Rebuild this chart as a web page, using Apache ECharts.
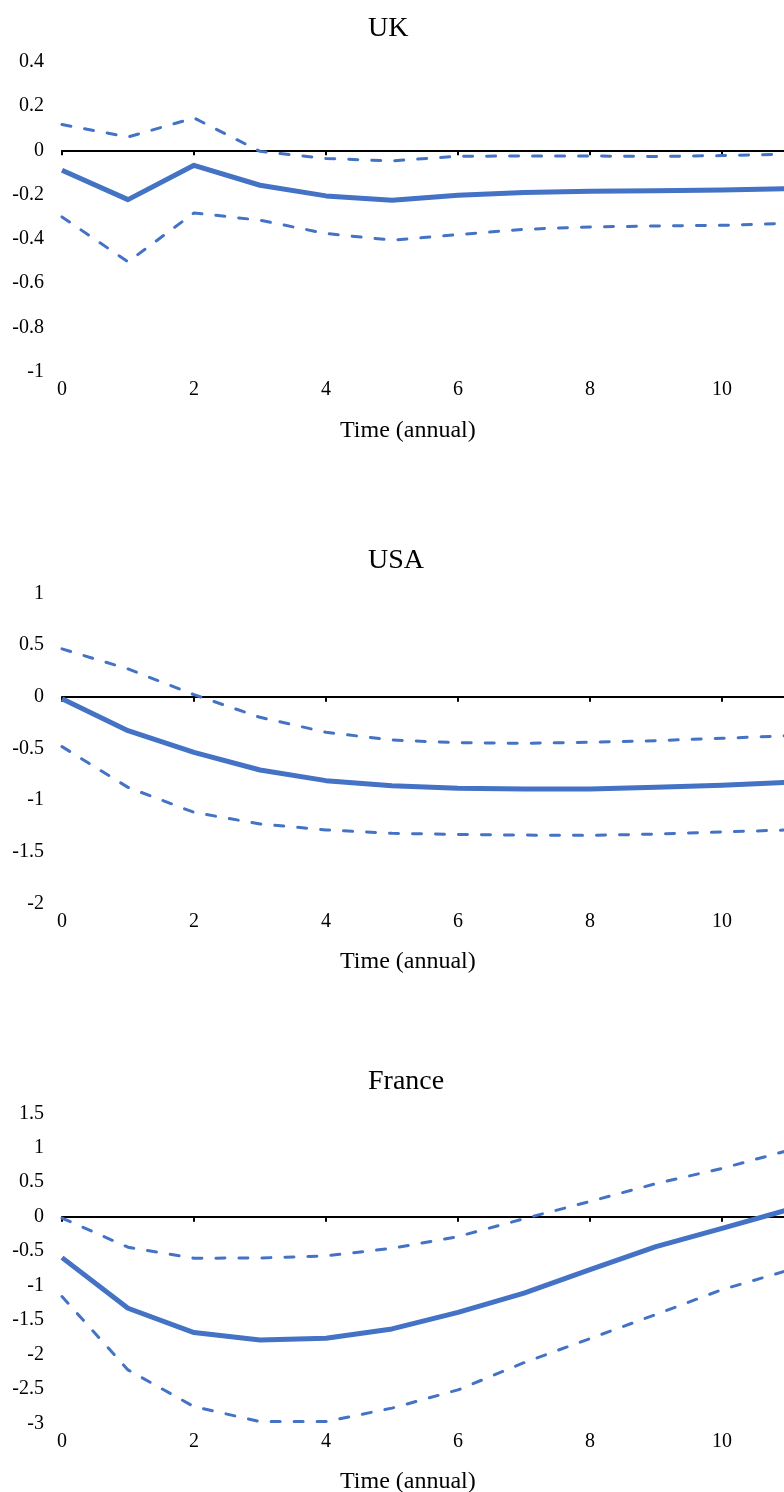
<!DOCTYPE html>
<html>
<head>
<meta charset="utf-8">
<script src="https://cdn.jsdelivr.net/npm/echarts@6/dist/echarts.min.js"></script>
<style>
html,body{margin:0;padding:0;background:#fff;}
#chart{width:784px;height:1492px;}
</style>
</head>
<body>
<div id="chart"></div>
<script>
// ---- data ----
const time = [0, 1, 2, 3, 4, 5, 6, 7, 8, 9, 10, 11];
const xTicks = [0, 2, 4, 6, 8, 10, 12];

const panelTitles = ['UK', 'USA', 'France'];
const xAxisTitle = 'Time (annual)';

const ukMid = [-0.09, -0.223, -0.068, -0.158, -0.206, -0.226, -0.203, -0.191, -0.185, -0.183, -0.179, -0.173];
const ukUpper = [0.116, 0.06, 0.146, -0.005, -0.037, -0.048, -0.027, -0.026, -0.026, -0.028, -0.024, -0.018];
const ukLower = [-0.301, -0.504, -0.283, -0.316, -0.376, -0.406, -0.381, -0.357, -0.346, -0.342, -0.339, -0.330];

const usaMid = [-0.02, -0.329, -0.539, -0.71, -0.813, -0.862, -0.887, -0.894, -0.894, -0.878, -0.858, -0.829];
const usaUpper = [0.462, 0.268, 0.019, -0.2, -0.345, -0.42, -0.446, -0.452, -0.442, -0.426, -0.403, -0.378];
const usaLower = [-0.484, -0.878, -1.12, -1.232, -1.29, -1.323, -1.333, -1.34, -1.343, -1.33, -1.31, -1.29];

const frMid = [-0.595, -1.33, -1.683, -1.79, -1.765, -1.63, -1.39, -1.11, -0.77, -0.435, -0.17, 0.1];
const frUpper = [-0.02, -0.444, -0.604, -0.6, -0.57, -0.459, -0.29, -0.03, 0.22, 0.48, 0.70, 0.96];
const frLower = [-1.16, -2.225, -2.758, -2.975, -2.975, -2.78, -2.515, -2.12, -1.77, -1.42, -1.06, -0.78];

const yMins = [-1, -2, -3];
const yMaxs = [0.4, 1, 1.5];
const yIntervals = [0.2, 0.5, 0.5];

// ---- styling / layout ----
const FONT = '"Liberation Serif", "Times New Roman", serif';
const BLUE = '#4472C4';
const gridTops = [61.7, 593.3, 1113.3];
const titleY = [28.5, 561, 1082];
const axisTitleY = [431, 962, 1482];

const panels = [
  [ukMid, ukUpper, ukLower],
  [usaMid, usaUpper, usaLower],
  [frMid, frUpper, frLower]
];

const grids = [], xAxes = [], yAxes = [], series = [], graphics = [];
const toPairs = arr => arr.map((v, i) => [time[i], v]);

panels.forEach((p, i) => {
  grids.push({ left: 62, top: gridTops[i], width: 792, height: 310, containLabel: false, outerBoundsMode: 'none' });
  // label axis at the bottom
  xAxes.push({
    type: 'value', gridIndex: i, min: xTicks[0], max: xTicks[xTicks.length - 1], interval: 2,
    position: 'bottom',
    axisLine: { show: false, onZero: false },
    axisTick: { show: false },
    splitLine: { show: false },
    axisLabel: { fontFamily: FONT, fontSize: 20, color: '#000', margin: 8 }
  });
  // zero line with ticks
  xAxes.push({
    type: 'value', gridIndex: i, min: xTicks[0], max: xTicks[xTicks.length - 1], interval: 2,
    position: 'top',
    axisLine: { show: true, onZero: true, lineStyle: { color: '#000', width: 2 } },
    axisTick: { show: true, inside: true, length: 5, lineStyle: { color: '#000', width: 2 } },
    splitLine: { show: false },
    axisLabel: { show: false }
  });
  yAxes.push({
    type: 'value', gridIndex: i, min: yMins[i], max: yMaxs[i], interval: yIntervals[i],
    axisLine: { show: false },
    axisTick: { show: false },
    splitLine: { show: false },
    axisLabel: { fontFamily: FONT, fontSize: 20, color: '#000', margin: 18, padding: [4, 0, 0, 0] }
  });
  const [mid, up, low] = p;
  [up, low].forEach(arr => {
    series.push({
      type: 'line', xAxisIndex: i * 2, yAxisIndex: i, data: toPairs(arr),
      showSymbol: false, symbol: 'none', smooth: false,
      lineStyle: { color: BLUE, width: 3, type: [9, 14], cap: 'round', join: 'round' },
      z: 3
    });
  });
  series.push({
    type: 'line', xAxisIndex: i * 2, yAxisIndex: i, data: toPairs(mid),
    showSymbol: false, symbol: 'none', smooth: false,
    lineStyle: { color: BLUE, width: 5, cap: 'butt', join: 'round' },
    z: 4
  });
  graphics.push({
    type: 'text', x: 368, y: titleY[i],
    style: { text: panelTitles[i], fill: '#000', font: '28px ' + FONT, align: 'left', verticalAlign: 'middle' }
  });
  graphics.push({
    type: 'text', x: 340, y: axisTitleY[i],
    style: { text: xAxisTitle, fill: '#000', font: '24px ' + FONT, align: 'left', verticalAlign: 'middle' }
  });
});

const chart = echarts.init(document.getElementById('chart'), null, { renderer: 'canvas' });
chart.setOption({
  animation: false,
  backgroundColor: '#fff',
  grid: grids,
  xAxis: xAxes,
  yAxis: yAxes,
  series: series,
  graphic: graphics
});
</script>
</body>
</html>
